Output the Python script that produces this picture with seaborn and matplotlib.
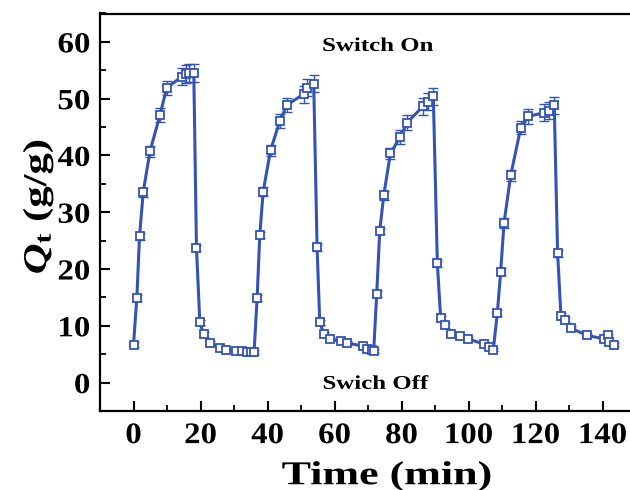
import matplotlib
matplotlib.use("Agg")
import matplotlib.pyplot as plt
import seaborn as sns
import numpy as np
import pandas as pd
from matplotlib.ticker import MultipleLocator
from matplotlib.patheffects import AbstractPathEffect
from matplotlib.transforms import Affine2D

# ---- data ----
time_min = [0, 1, 1.8, 2.9, 4.9, 7.9, 9.9, 14.5, 15.7, 16.7, 18, 18.8, 19.8, 20.9, 22.9, 25.9, 27.7, 30.7, 32.5, 34, 35, 36,
            36.9, 37.7, 38.7, 40.9, 43.7, 45.8, 50.8, 51.8, 53.8, 54.8, 55.6, 56.8, 58.6, 61.8, 63.8, 68.6, 69.6, 71.1, 71.7,
            72.6, 73.5, 74.7, 76.7, 79.7, 81.7, 86.5, 88, 89.5, 90.7, 91.7, 93, 94.7, 97.5, 99.9, 104.5, 106, 107.4,
            108.6, 109.6, 110.6, 112.6, 115.6, 117.9, 122.4, 123.9, 125.6, 126.6, 127.6, 128.9, 130.5, 135.5, 140.5, 141.5, 141.8, 143.3]
qt = [6.7, 14.9, 25.8, 33.5, 40.7, 47.1, 51.9, 53.9, 54.4, 54.5, 54.5, 23.7, 10.6, 8.5, 7.0, 6.1, 5.8, 5.6, 5.5, 5.4, 5.4, 5.4,
      14.9, 26.0, 33.6, 40.9, 46.1, 48.9, 50.8, 51.9, 52.6, 23.8, 10.6, 8.6, 7.7, 7.3, 7.0, 6.4, 6.0, 5.7, 5.6,
      15.6, 26.7, 33.0, 40.4, 43.3, 45.8, 48.7, 49.5, 50.4, 21.0, 11.3, 10.1, 8.6, 8.2, 7.7, 6.8, 6.3, 5.8,
      12.2, 19.5, 28.1, 36.5, 44.9, 46.9, 47.5, 47.9, 48.8, 22.8, 11.7, 11.1, 9.6, 8.3, 7.7, 8.3, 7.1, 6.7]
qt_err = [0.4, 0.5, 0.6, 0.8, 1.0, 1.2, 1.3, 1.5, 1.6, 1.6, 1.6, 0.6, 0.5, 0.4, 0.3, 0.3, 0.3, 0.3, 0.3, 0.3, 0.3, 0.3,
          0.5, 0.6, 0.8, 1.0, 1.2, 1.3, 1.5, 1.5, 1.5, 0.6, 0.5, 0.4, 0.3, 0.3, 0.3, 0.3, 0.3, 0.3, 0.3,
          0.5, 0.6, 0.8, 1.0, 1.2, 1.3, 1.5, 1.5, 1.5, 0.6, 0.5, 0.4, 0.3, 0.3, 0.3, 0.3, 0.3, 0.3,
          0.5, 0.6, 0.8, 1.0, 1.2, 1.3, 1.5, 1.5, 1.5, 0.6, 0.5, 0.4, 0.3, 0.3, 0.3, 0.3, 0.3, 0.3]
x_ticks = [0, 20, 40, 60, 80, 100, 120, 140]
y_ticks = [0, 10, 20, 30, 40, 50, 60]

df = pd.DataFrame({"Time": time_min, "Qt": qt, "err": qt_err})


class StretchX(AbstractPathEffect):
    """Widen text along its own baseline direction (the reference font is wide)."""
    def __init__(self, sx=1.3, anchor="center"):
        super().__init__()
        self.sx = sx
        self.anchor = anchor

    def draw_path(self, renderer, gc, tpath, affine, rgbFace=None):
        ext = tpath.get_extents()
        if self.anchor == "right":
            cx = ext.x1
        elif self.anchor == "left":
            cx = ext.x0
        else:
            cx = 0.5 * (ext.x0 + ext.x1)
        t = Affine2D().translate(-cx, 0).scale(self.sx, 1).translate(cx, 0) + affine
        renderer.draw_path(gc, tpath, t, rgbFace)


sns.set_theme(style="ticks")
plt.rcParams["font.family"] = ["Liberation Serif", "DejaVu Serif"]
plt.rcParams["font.weight"] = "bold"
plt.rcParams["text.color"] = "black"
plt.rcParams["axes.labelcolor"] = "black"
plt.rcParams["xtick.color"] = "black"
plt.rcParams["ytick.color"] = "black"
plt.rcParams["mathtext.fontset"] = "custom"
plt.rcParams["mathtext.rm"] = "Liberation Serif:bold"
plt.rcParams["mathtext.it"] = "Liberation Serif:italic:bold"
plt.rcParams["mathtext.bf"] = "Liberation Serif:bold"

color = "#3553b3"
fig = plt.figure(figsize=(6.3, 4.9), dpi=100)
ax = fig.add_axes([100 / 630, 1 - 411 / 490, 536 / 630, (411 - 13.5) / 490])

ax.errorbar(df["Time"], df["Qt"], yerr=df["err"], fmt="none", ecolor=color,
            elinewidth=1.0, capsize=3.5, capthick=1.0, zorder=2)
sns.lineplot(data=df, x="Time", y="Qt", ax=ax, color=color, lw=2.2, marker="s",
             markersize=5.5, markerfacecolor="white", markeredgecolor=color,
             markeredgewidth=1.3, sort=False, estimator=None, zorder=3)

ax.set_xlim(-10, 150)
ax.set_ylim(-5, 65)
ax.set_xticks(x_ticks)
ax.set_yticks(y_ticks)
ax.xaxis.set_minor_locator(MultipleLocator(10))
ax.yaxis.set_minor_locator(MultipleLocator(5))
ax.tick_params(axis="x", which="major", direction="in", length=7, width=1.5, labelsize=21.5, pad=8)
ax.tick_params(axis="y", which="major", direction="in", length=7, width=1.5, labelsize=21, pad=7)
ax.tick_params(which="minor", direction="in", length=4, width=1.3)
ax.tick_params(top=False, right=False)
for lab in ax.get_xticklabels():
    lab.set_fontweight("bold")
    lab.set_path_effects([StretchX(1.1, "center")])
for lab in ax.get_yticklabels():
    lab.set_fontweight("bold")
    lab.set_path_effects([StretchX(1.13, "right")])
for s in ax.spines.values():
    s.set_linewidth(1.6)
    s.set_color("black")

ax.set_xlabel("Time (min)", fontsize=24, fontweight="bold", labelpad=8,
              path_effects=[StretchX(1.32, "center")])
ax.xaxis.label.set_x((387 - 100) / 536)
ax.set_ylabel(r"$Q_{\rm t}$ (g/g)", fontsize=24, fontweight="bold", labelpad=4,
              path_effects=[StretchX(1.28, "center")])
ax.yaxis.label.set_y(0.515)

ax.text(73, 59.2, "Switch On", fontsize=14, fontweight="bold", ha="center", va="center",
        path_effects=[StretchX(1.28, "center")])
ax.text(72.3, -0.3, "Swich Off", fontsize=14, fontweight="bold", ha="center", va="center",
        path_effects=[StretchX(1.28, "center")])

fig.savefig("out.png", dpi=100)
